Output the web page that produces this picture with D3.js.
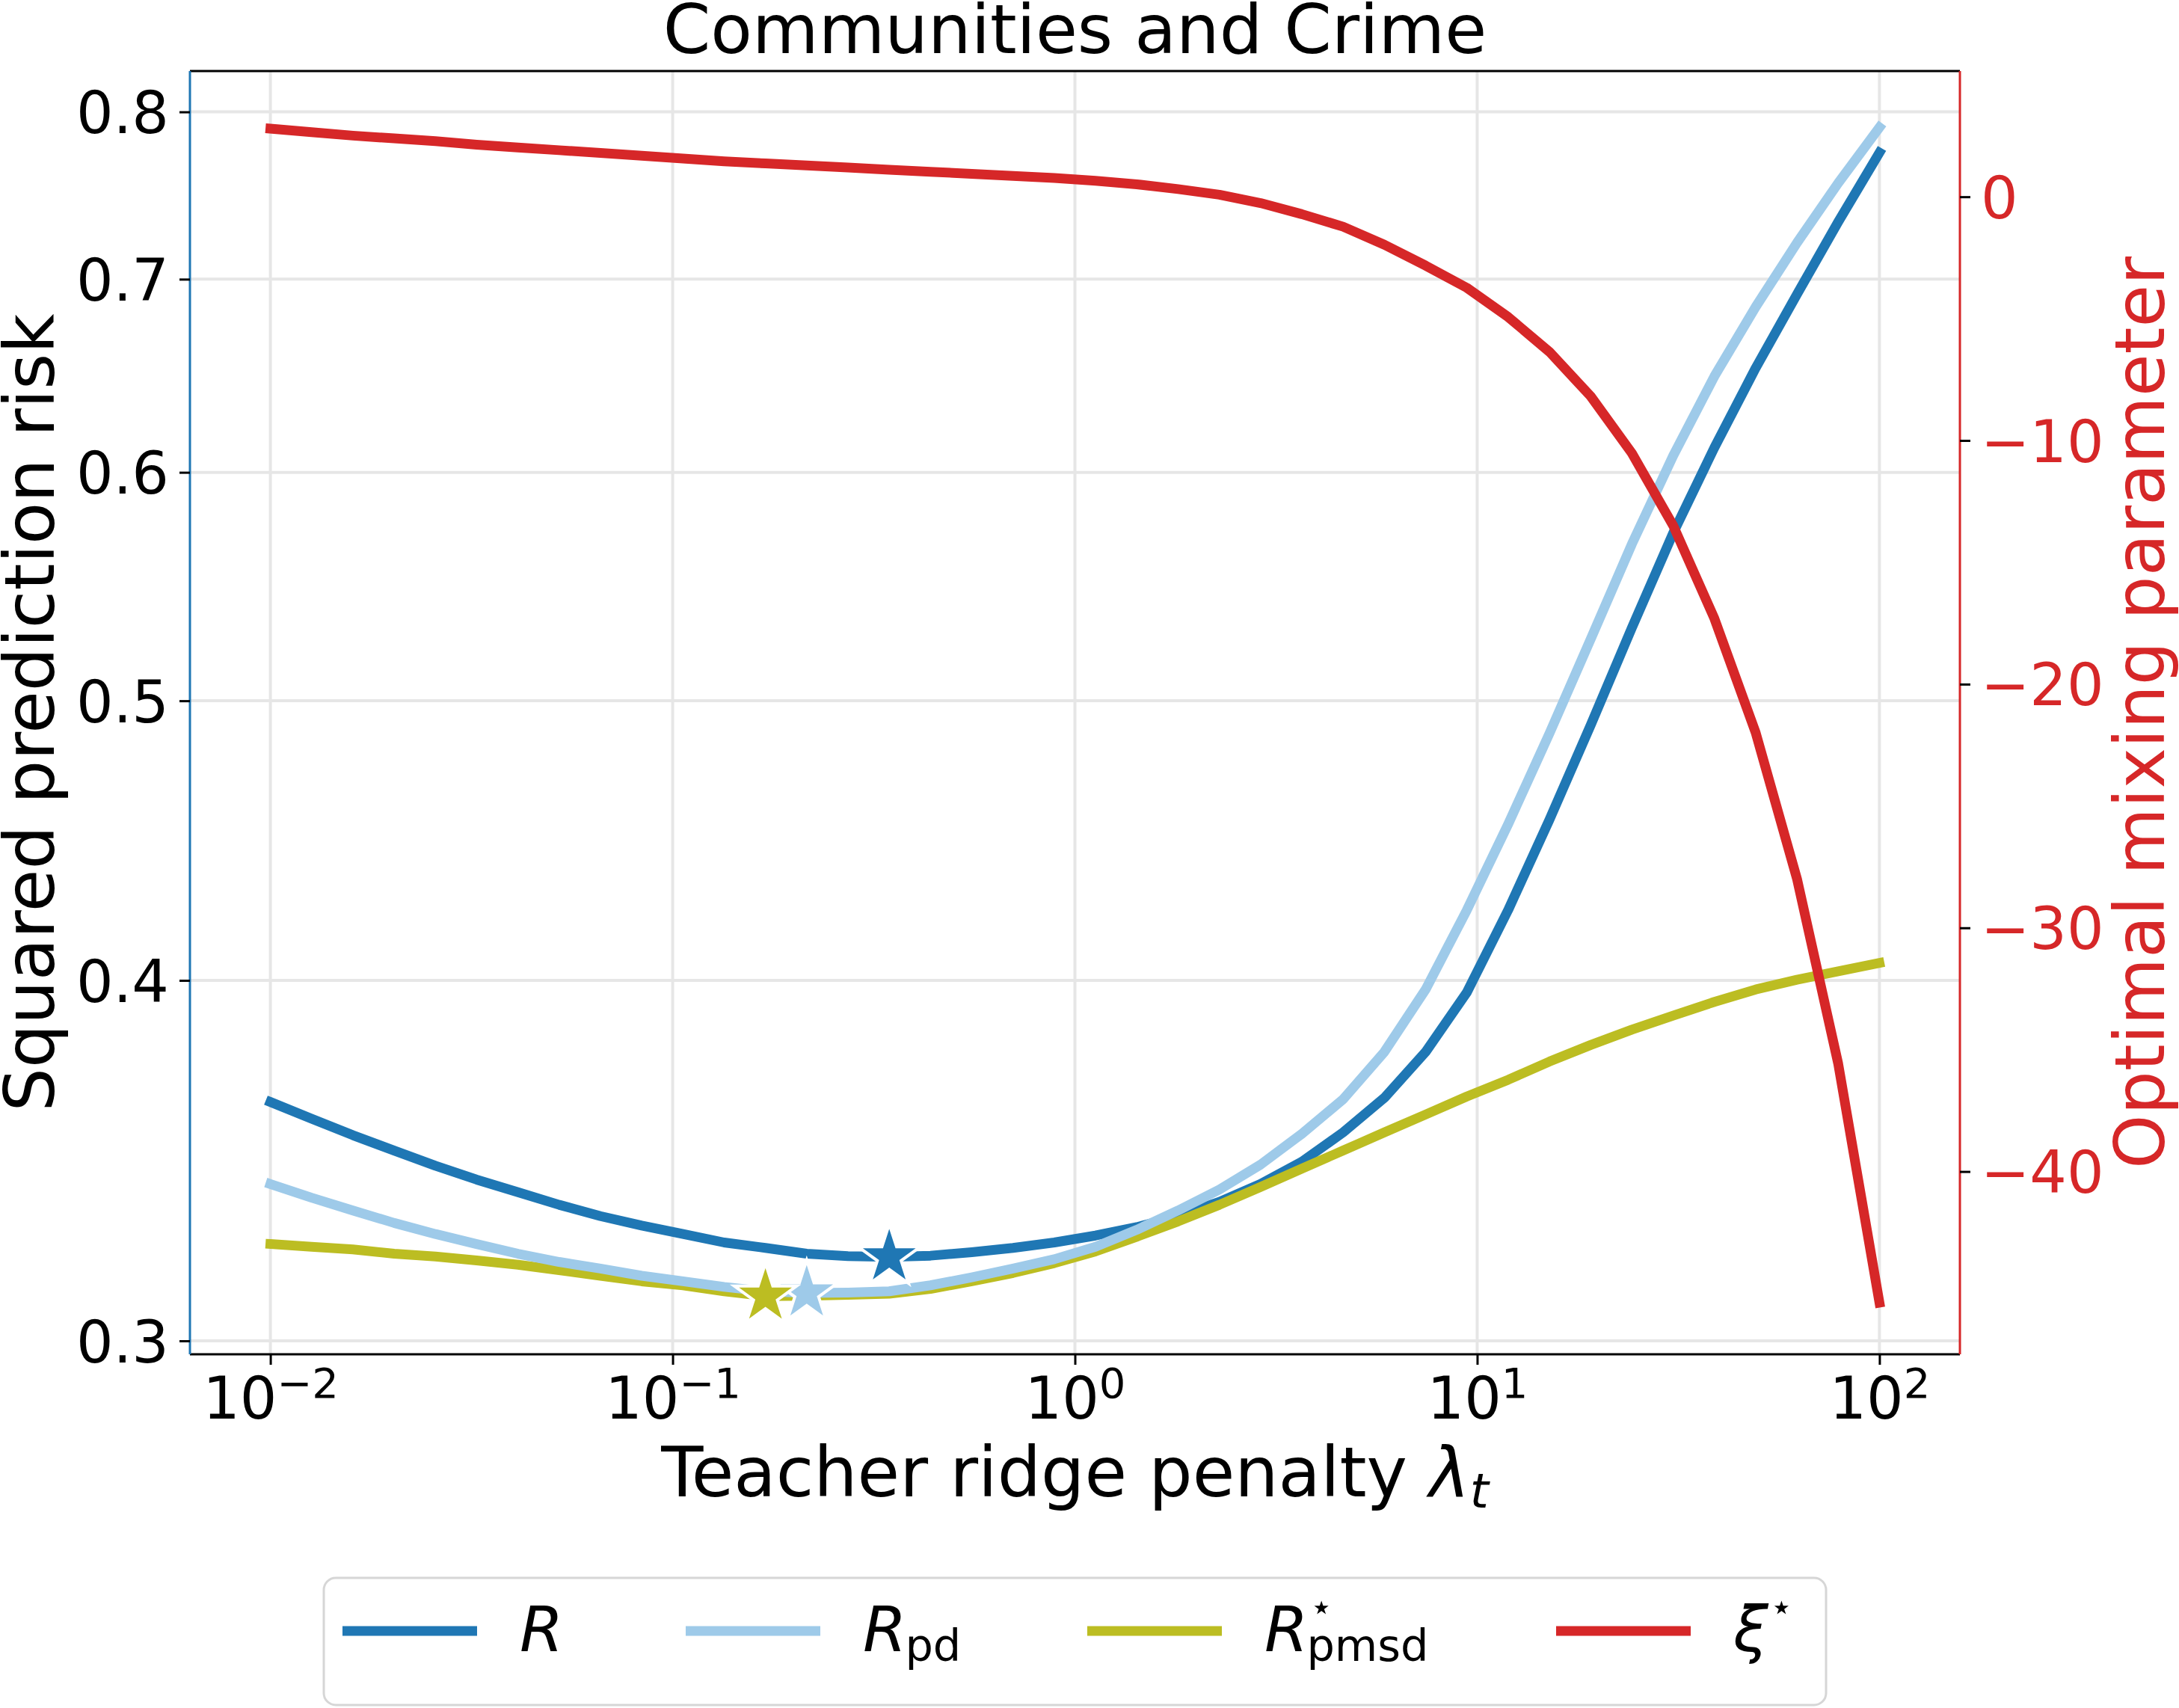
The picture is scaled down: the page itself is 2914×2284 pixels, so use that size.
<!DOCTYPE html>
<html>
<head>
<meta charset="utf-8">
<script src="https://cdn.jsdelivr.net/npm/d3@7"></script>
<style>
  body { margin: 0; background: #fff; }
  text { font-family: "DejaVu Sans", sans-serif; }
</style>
</head>
<body>
<svg id="chart" width="2914" height="2284"></svg>
<script>
// teacher ridge penalty grid (40 points, log spaced)
const lambdas = [0.01, 0.01266, 0.01604, 0.02031, 0.02572, 0.03257, 0.04125, 0.05223, 0.06615, 0.08377,
    0.1061, 0.1343, 0.1701, 0.2154, 0.2728, 0.3455, 0.4375, 0.5541, 0.7017, 0.8886,
    1.125, 1.425, 1.805, 2.286, 2.894, 3.665, 4.642, 5.878, 7.444, 9.427,
    11.94, 15.12, 19.15, 24.24, 30.70, 38.88, 49.24, 62.36, 78.96, 100];

// squared prediction risk, left axis
const riskR = [0.3630, 0.3582, 0.3535, 0.3492, 0.3450, 0.3412, 0.3378, 0.3344, 0.3314, 0.3289,
    0.3267, 0.3245, 0.3231, 0.3216, 0.3210, 0.3208, 0.3211, 0.3220, 0.3231, 0.3245,
    0.3263, 0.3285, 0.3314, 0.3352, 0.3400, 0.3461, 0.3543, 0.3642, 0.3778, 0.3962,
    0.4231, 0.4547, 0.4904, 0.5300, 0.5716, 0.6120, 0.6521, 0.6916, 0.7327, 0.7744];
const riskPd = [0.3400, 0.3363, 0.3329, 0.3296, 0.3267, 0.3241, 0.3216, 0.3195, 0.3178, 0.3160,
    0.3146, 0.3132, 0.3121, 0.3117, 0.3118, 0.3121, 0.3136, 0.3156, 0.3178, 0.3202,
    0.3234, 0.3278, 0.3329, 0.3385, 0.3453, 0.3539, 0.3638, 0.3778, 0.3971, 0.4231,
    0.4531, 0.4871, 0.5252, 0.5666, 0.6080, 0.6478, 0.6847, 0.7206, 0.7558, 0.7901];
const riskPmsd = [0.3241, 0.3234, 0.3227, 0.3216, 0.3209, 0.3199, 0.3188, 0.3174, 0.3160, 0.3146,
    0.3136, 0.3121, 0.3109, 0.3110, 0.3112, 0.3115, 0.3127, 0.3146, 0.3167, 0.3192,
    0.3222, 0.3260, 0.3300, 0.3344, 0.3392, 0.3442, 0.3492, 0.3543, 0.3594, 0.3646,
    0.3695, 0.3749, 0.3799, 0.3846, 0.3889, 0.3932, 0.3971, 0.4002, 0.4029, 0.4056];

// optimal mixing parameter, right axis
const xiStar = [2.795, 2.653, 2.510, 2.396, 2.282, 2.139, 2.025, 1.911, 1.797, 1.683,
    1.569, 1.455, 1.369, 1.284, 1.198, 1.112, 1.027, 0.941, 0.856, 0.770,
    0.656, 0.513, 0.314, 0.086, -0.257, -0.713, -1.226, -1.968, -2.824, -3.736,
    -4.934, -6.361, -8.186, -10.52, -13.49, -17.31, -21.99, -27.98, -35.57, -45.38];

const leftTicks = [0.3, 0.4, 0.5, 0.6, 0.7, 0.8];
const rightTicks = [0, -10, -20, -30, -40];
const xTickExps = [-2, -1, 0, 1, 2];

const colors = {R: "#1f77b4", pd: "#9ecae9", pmsd: "#bcbd22", xi: "#d62728"};

const svg = d3.select("#chart");
const W = +svg.attr("width"), H = +svg.attr("height");
const plot = {left: 254, right: 2621, top: 95, bottom: 1811};
const lw = 13;

svg.append("rect").attr("width", W).attr("height", H).attr("fill", "#fff");

const x = d3.scaleLog().domain([Math.pow(10, -2.2), Math.pow(10, 2.2)]).range([plot.left, plot.right]);
const y = d3.scaleLog().domain([0.2968, 0.8265]).range([plot.bottom, plot.top]);
const y2 = d3.scaleLinear().domain([-47.5, 5.16]).range([plot.bottom, plot.top]);

// grid
const grid = svg.append("g").attr("stroke", "#e6e6e6").attr("stroke-width", 4);
xTickExps.forEach(e => {
    grid.append("line")
        .attr("x1", x(Math.pow(10, e))).attr("x2", x(Math.pow(10, e)))
        .attr("y1", plot.top).attr("y2", plot.bottom);
});
leftTicks.forEach(v => {
    grid.append("line")
        .attr("x1", plot.left).attr("x2", plot.right)
        .attr("y1", y(v)).attr("y2", y(v));
});

// left risk curves (light blue drawn over the olive one)
const line = d3.line().x((d, i) => x(lambdas[i])).y(d => y(d));
const riskSeries = [[riskR, colors.R], [riskPmsd, colors.pmsd], [riskPd, colors.pd]];
riskSeries.forEach(([s, c]) => {
    svg.append("path")
        .attr("d", line(s))
        .attr("fill", "none")
        .attr("stroke", c)
        .attr("stroke-width", lw)
        .attr("stroke-linecap", "square")
        .attr("stroke-linejoin", "round");
});

// minimum markers
const star = d3.symbol().type(d3.symbolStar).size(2150);
[[riskR, colors.R], [riskPd, colors.pd], [riskPmsd, colors.pmsd]].forEach(([s, c]) => {
    const i = d3.minIndex(s);
    svg.append("path")
        .attr("d", star())
        .attr("transform", `translate(${x(lambdas[i])},${y(s[i])})`)
        .attr("fill", c)
        .attr("stroke", "#fff")
        .attr("stroke-width", 4)
        .attr("stroke-linejoin", "miter");
});

// mixing parameter on twin axis
const line2 = d3.line().x((d, i) => x(lambdas[i])).y(d => y2(d));
svg.append("path")
    .attr("d", line2(xiStar))
    .attr("fill", "none")
    .attr("stroke", colors.xi)
    .attr("stroke-width", lw)
    .attr("stroke-linecap", "square")
    .attr("stroke-linejoin", "round");

// spines
svg.append("line").attr("x1", plot.left).attr("x2", plot.right).attr("y1", plot.top).attr("y2", plot.top)
    .attr("stroke", "#000").attr("stroke-width", 3);
svg.append("line").attr("x1", plot.left).attr("x2", plot.right).attr("y1", plot.bottom).attr("y2", plot.bottom)
    .attr("stroke", "#000").attr("stroke-width", 3);
svg.append("line").attr("x1", plot.left).attr("x2", plot.left).attr("y1", plot.top).attr("y2", plot.bottom)
    .attr("stroke", colors.R).attr("stroke-width", 3);
svg.append("line").attr("x1", plot.right).attr("x2", plot.right).attr("y1", plot.top).attr("y2", plot.bottom)
    .attr("stroke", colors.xi).attr("stroke-width", 3);

// axes
const yAxis = svg.append("g")
    .attr("transform", `translate(${plot.left},0)`)
    .call(d3.axisLeft(y).tickValues(leftTicks).tickFormat(d3.format(".1f")).tickSize(14).tickPadding(14));
const y2Axis = svg.append("g")
    .attr("transform", `translate(${plot.right},0)`)
    .call(d3.axisRight(y2).tickValues(rightTicks).tickFormat(d => d < 0 ? "\u2212" + Math.abs(d) : d).tickSize(14).tickPadding(14));
const xAxis = svg.append("g")
    .attr("transform", `translate(0,${plot.bottom})`)
    .call(d3.axisBottom(x).tickValues(xTickExps.map(e => Math.pow(10, e))).tickFormat("").tickSize(14));

[yAxis, y2Axis, xAxis].forEach(a => {
    a.select(".domain").remove();
    a.selectAll(".tick line").attr("stroke", "#000").attr("stroke-width", 3);
    a.selectAll(".tick text").attr("font-family", "DejaVu Sans").attr("font-size", 78).attr("dy", "0.36em");
});
yAxis.selectAll(".tick text").attr("fill", "#000");
y2Axis.selectAll(".tick text").attr("fill", colors.xi);

xAxis.selectAll(".tick").each(function(d) {
    const e = Math.round(Math.log10(d));
    const t = d3.select(this).select("text")
        .attr("y", 86).attr("dy", null)
        .attr("fill", "#000").attr("text-anchor", "middle");
    t.text(null);
    t.append("tspan").text("10");
    t.append("tspan").attr("dy", -28).attr("font-size", 56).text(e < 0 ? "\u2212" + Math.abs(e) : String(e));
});

// titles and labels
svg.append("text")
    .attr("x", (plot.left + plot.right) / 2).attr("y", 71)
    .attr("text-anchor", "middle").attr("font-size", 91)
    .text("Communities and Crime");

const xl = svg.append("text")
    .attr("x", (plot.left + plot.right) / 2).attr("y", 2001)
    .attr("text-anchor", "middle").attr("font-size", 92);
xl.append("tspan").text("Teacher ridge penalty ");
xl.append("tspan").attr("font-style", "italic").text("\u03bb");
xl.append("tspan").attr("font-style", "italic").attr("font-size", 64).attr("dy", 15).text("t");

svg.append("text")
    .attr("transform", `translate(72,${(plot.top + plot.bottom) / 2}) rotate(-90)`)
    .attr("text-anchor", "middle").attr("font-size", 92)
    .text("Squared prediction risk");

svg.append("text")
    .attr("transform", `translate(2894,${(plot.top + plot.bottom) / 2}) rotate(-90)`)
    .attr("text-anchor", "middle").attr("font-size", 92).attr("fill", colors.xi)
    .text("Optimal mixing parameter");

// legend
const legend = svg.append("g");
legend.append("rect")
    .attr("x", 433).attr("y", 2110).attr("width", 2009).attr("height", 170)
    .attr("rx", 16).attr("fill", "#fff").attr("stroke", "#d6d6d6").attr("stroke-width", 3);

const legendItems = [
    {color: colors.R, x0: 458, main: "R", sub: null, sup: false},
    {color: colors.pd, x0: 917, main: "R", sub: "pd", sup: false},
    {color: colors.pmsd, x0: 1454, main: "R", sub: "pmsd", sup: true},
    {color: colors.xi, x0: 2081, main: "\u03be", sub: null, sup: true}
];
const legY = 2181, legBase = 2208;
legendItems.forEach(it => {
    legend.append("line")
        .attr("x1", it.x0).attr("x2", it.x0 + 180)
        .attr("y1", legY).attr("y2", legY)
        .attr("stroke", it.color).attr("stroke-width", lw);
    const lx = it.x0 + 180 + 57;
    const m = legend.append("text")
        .attr("x", lx).attr("y", legBase)
        .attr("font-size", 84).attr("font-style", "italic")
        .text(it.main);
    const w = m.node().getComputedTextLength();
    if (it.sup) {
        legend.append("text")
            .attr("x", lx + w + 2).attr("y", legBase - 42)
            .attr("font-size", 50)
            .text("\u22c6");
    }
    if (it.sub) {
        legend.append("text")
            .attr("x", lx + w - 2).attr("y", legBase + 13)
            .attr("font-size", 59)
            .text(it.sub);
    }
});
</script>
</body>
</html>
